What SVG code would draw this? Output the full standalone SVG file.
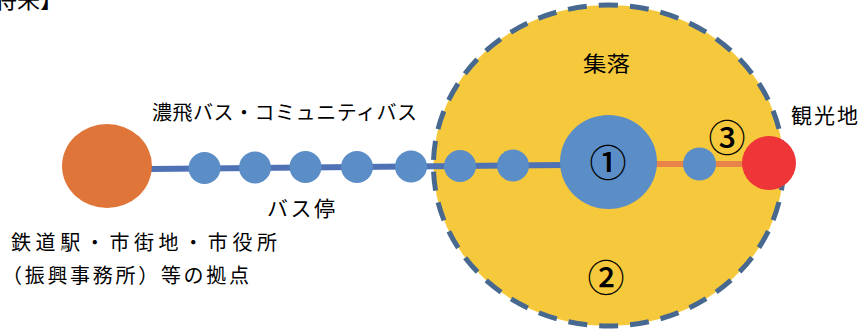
<svg xmlns="http://www.w3.org/2000/svg" width="863" height="329" viewBox="0 0 863 329">
<style>
text{font-family:"Noto Sans CJK JP","Noto Sans",sans-serif;fill:#000;}
.lbl{font-size:20px;}
.num{font-size:37px;text-anchor:middle;dominant-baseline:central;font-weight:500;}
.stop{fill:#5B8DC6;}
.bus{stroke:#4F72B5;stroke-width:6;fill:none;}
.ring{fill:none;stroke:#48698F;stroke-width:5;stroke-dasharray:19 12;stroke-dashoffset:9.5;}
</style>
<text class="lbl" x="-6" y="8" style="font-size:23px">将来】</text>
<g id="village-area">
<ellipse cx="608.5" cy="165.5" rx="175" ry="160.5" fill="#F6C93D"/>
</g>
<g id="connectors">
<line class="bus" x1="150" y1="169" x2="565" y2="165"/>
<line x1="650" y1="164" x2="745" y2="164" stroke="#E8844A" stroke-width="6"/>
</g>
<g id="hub">
<ellipse cx="107" cy="166" rx="45" ry="42" fill="#E07539"/>
</g>
<g id="bus-stops">
<circle class="stop" cx="204.5" cy="168" r="16"/>
<circle class="stop" cx="255" cy="167.5" r="16"/>
<circle class="stop" cx="305.5" cy="167" r="16"/>
<circle class="stop" cx="357" cy="167" r="16"/>
<circle class="stop" cx="411" cy="166.5" r="16"/>
<circle class="stop" cx="460" cy="166" r="16"/>
<circle class="stop" cx="513" cy="165.5" r="16"/>
</g>
<g id="village-ring">
<path class="ring" d="M608.5,5 A175,160.5 0 1 1 608.5,326 A175,160.5 0 1 1 608.5,5 Z"/>
</g>
<g id="center-node">
<ellipse cx="608.5" cy="162" rx="48.5" ry="47" fill="#5B8DC6"/>
<text class="num" x="608" y="161">①</text>
</g>
<g id="small-stop">
<circle class="stop" cx="699.5" cy="164" r="16.5"/>
</g>
<g id="tourist-node">
<circle cx="769" cy="163" r="27" fill="#EE3638"/>
</g>
<text class="num" x="727" y="136">③</text>
<text class="num" x="606" y="276">②</text>
<text class="lbl" x="583" y="71" textLength="47" lengthAdjust="spacingAndGlyphs" style="font-size:21px">集落</text>
<text class="lbl" x="152" y="120" textLength="265">濃飛バス・コミュニティバス</text>
<text class="lbl" x="267" y="216" textLength="68" style="font-size:21px">バス停</text>
<text class="lbl" x="791" y="123" textLength="67" style="font-size:21px">観光地</text>
<text class="lbl" x="11" y="250" textLength="266">鉄道駅・市街地・市役所</text>
<text class="lbl" x="2" y="283" textLength="247">（振興事務所）等の拠点</text>
</svg>
